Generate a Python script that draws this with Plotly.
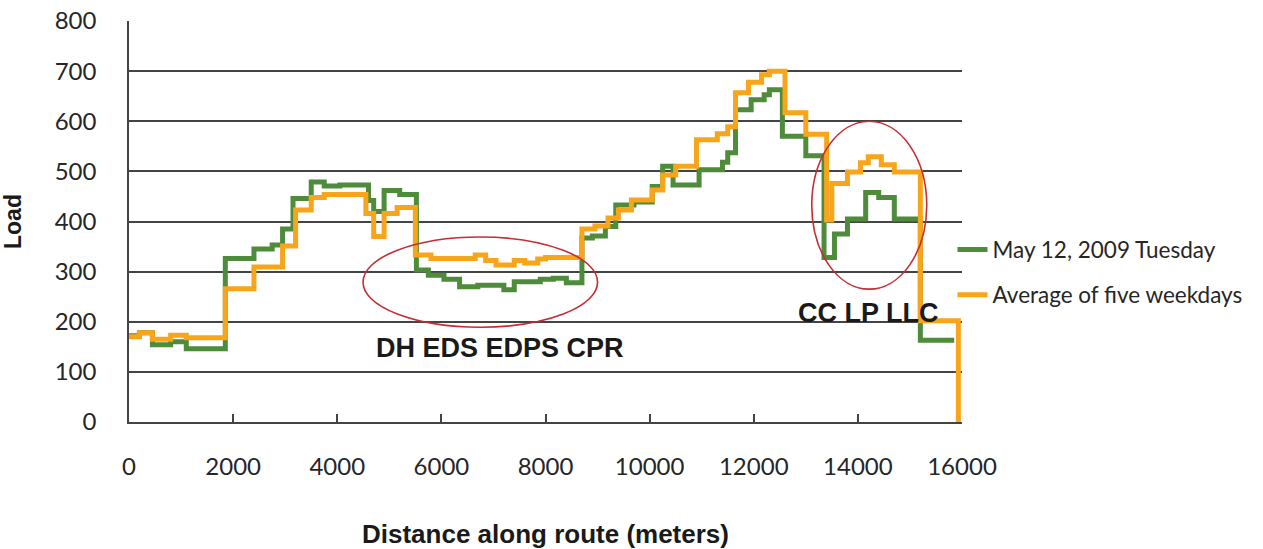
import plotly.graph_objects as go

# Passenger load along the route, stepped at each stop (distance in meters)
dist_may12 = [0, 200, 450, 800, 1100, 1850, 2400, 2750, 2950, 3150, 3500, 3750, 4050,
              4600, 4700, 4900, 5200, 5520, 5750, 6050, 6350, 6700, 7200, 7400, 7900,
              8150, 8400, 8700, 8900, 9150, 9350, 9700, 10050, 10250, 10450, 10950,
              11400, 11500, 11650, 11950, 12200, 12300, 12550, 13000, 13350, 13550,
              13800, 14150, 14400, 14700, 15200, 15850]
load_may12 = [172, 178, 154, 160, 146, 326, 345, 353, 385, 446, 479, 471, 473,
              442, 420, 462, 454, 303, 293, 285, 270, 273, 264, 280, 285,
              287, 278, 367, 371, 390, 433, 439, 470, 510, 473, 503,
              518, 537, 623, 643, 653, 663, 570, 531, 328, 375,
              405, 458, 448, 405, 163, 163]

dist_avg = [0, 200, 450, 800, 1100, 1850, 2400, 2950, 3200, 3500, 3750, 4550, 4700,
            4900, 5150, 5500, 5800, 6650, 6850, 7050, 7400, 7600, 7850, 8000, 8700,
            8950, 9200, 9400, 9650, 10050, 10250, 10500, 10900, 11300, 11500, 11650,
            11900, 12150, 12300, 12600, 13000, 13400, 13500, 13800, 14050, 14200,
            14450, 14700, 15200, 15930]
load_avg = [170, 178, 165, 173, 168, 266, 309, 351, 423, 448, 454, 416, 370,
            416, 428, 333, 326, 333, 322, 313, 322, 317, 325, 328, 385,
            391, 407, 423, 443, 463, 493, 510, 563, 575, 589, 657,
            678, 693, 700, 617, 574, 403, 476, 499, 517, 529,
            513, 499, 202, 0]

series_names = ["May 12, 2009 Tuesday", "Average of five weekdays"]
x_ticks = [0, 2000, 4000, 6000, 8000, 10000, 12000, 14000, 16000]
y_ticks = [0, 100, 200, 300, 400, 500, 600, 700, 800]

# Highlighted stretches: (label, distance span, load span, label position)
highlights = [
    ("DH EDS EDPS CPR", (4495, 9000), (189, 369), (7126, 147)),
    ("CC LP LLC", (13114, 15323), (265, 600), (14195, 218)),
]

GREEN = "#4E8B3A"
ORANGE = "#F8A51B"
RED = "#C62D32"
GRID = "#444444"
TICK_FONT = "Lato, Open Sans, sans-serif"
BOLD_FONT = "Liberation Sans, Arial"

fig = go.Figure()
fig.add_trace(go.Scatter(x=dist_may12, y=load_may12, mode="lines", name=series_names[0],
                         line=dict(color=GREEN, width=5, shape="hv"), legendgroup="a"))
fig.add_trace(go.Scatter(x=dist_avg, y=load_avg, mode="lines", name=series_names[1],
                         line=dict(color=ORANGE, width=5, shape="hv"), legendgroup="b"))

for label, (x0, x1), (y0, y1), (tx, ty) in highlights:
    fig.add_shape(type="circle", xref="x", yref="y", x0=x0, x1=x1, y0=y0, y1=y1,
                  line=dict(color=RED, width=1.6))
    fig.add_annotation(x=tx, y=ty, xref="x", yref="y", text=f"<b>{label}</b>",
                       showarrow=False, xanchor="center", yanchor="middle",
                       font=dict(family=BOLD_FONT, size=27, color="#1A1A1A"))

fig.update_layout(
    width=1263, height=549,
    margin=dict(l=129, r=301, t=21, b=127),
    paper_bgcolor="white", plot_bgcolor="white",
    font=dict(family=TICK_FONT, size=24, color="#262626"),
    showlegend=True,
    legend=dict(x=0.9886, y=0.483, xanchor="left", yanchor="top",
                bgcolor="rgba(0,0,0,0)", tracegroupgap=13,
                font=dict(family=TICK_FONT, size=22.5, color="#262626")),
    xaxis=dict(
        range=[0, 16000], tickvals=x_ticks, ticktext=[str(v) for v in x_ticks],
        showgrid=False, zeroline=False, showline=True, linecolor=GRID, linewidth=2,
        ticks="inside", ticklen=8, tickwidth=1.5, tickcolor=GRID,
        ticklabelstandoff=22, automargin=False,
        title=dict(text="<b>Distance along route (meters)</b>", standoff=47,
                   font=dict(family=BOLD_FONT, size=26, color="#1A1A1A")),
    ),
    yaxis=dict(
        range=[0, 800], tickvals=y_ticks, ticktext=[str(v) for v in y_ticks],
        showgrid=True, gridcolor=GRID, gridwidth=1.6, zeroline=False,
        showline=True, linecolor=GRID, linewidth=1.6,
        ticks="", ticklabelstandoff=26, automargin=False,
        title=dict(text="<b>Load</b>", standoff=34,
                   font=dict(family=BOLD_FONT, size=23, color="#1A1A1A")),
    ),
)

fig.write_html("out.html")
